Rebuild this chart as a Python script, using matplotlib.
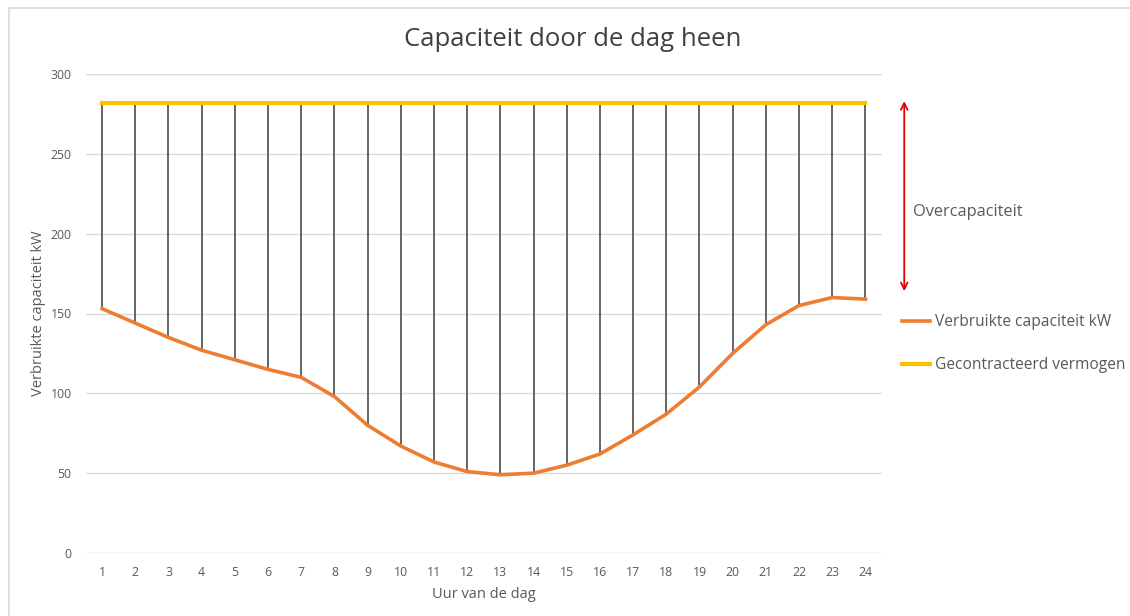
import matplotlib
matplotlib.use('Agg')
import matplotlib.pyplot as plt
from matplotlib.lines import Line2D

# Hourly data
hours = list(range(1, 25))
verbruikt = [153, 144, 135, 127, 121, 115, 110, 98, 80, 67, 57, 51,
             49, 50, 55, 62, 74, 87, 104, 125, 143, 155, 160, 159]
gecontracteerd = [282] * 24
y_ticks = [0, 50, 100, 150, 200, 250, 300]

ORANGE = '#ED7D31'
GOLD = '#FFC000'
TEXT = '#595959'
GRID = '#D9D9D9'

plt.rcParams['font.family'] = ['Open Sans', 'DejaVu Sans']

W, H = 1130, 616
fig = plt.figure(figsize=(W / 100, H / 100), dpi=100)
ax = fig.add_axes([85.5 / W, 1 - 553 / H, (882 - 85.5) / W, (553 - 74) / H])

# outer chart frame (left and top edges only visible)
fig.add_artist(Line2D([9 / W, 9 / W], [0, 1 - 8 / H], color='#D9D9D9', lw=1.2))
fig.add_artist(Line2D([9 / W, 1], [1 - 8 / H, 1 - 8 / H], color='#D9D9D9', lw=1.2))

# high-low drop lines
ax.vlines(hours, verbruikt, gecontracteerd, color='#595959', lw=1.3, zorder=2)
ax.plot(hours, verbruikt, color=ORANGE, lw=2.6, zorder=3,
        label='Verbruikte capaciteit kW', solid_joinstyle='round')
ax.plot(hours, gecontracteerd, color=GOLD, lw=3, zorder=3,
        label='Gecontracteerd vermogen')

ax.set_xlim(0.5, 24.5)
ax.set_ylim(0, 300)
ax.set_yticks(y_ticks)
ax.set_xticks(hours)
ax.grid(axis='y', color=GRID, lw=1)
ax.set_axisbelow(True)
for s in ax.spines.values():
    s.set_visible(False)
ax.tick_params(length=0, labelsize=8.8, colors=TEXT)
ax.tick_params(axis='x', pad=9)
ax.tick_params(axis='y', pad=10)

fig.text(573 / W, 1 - 40 / H, 'Capaciteit door de dag heen', fontsize=18.5,
         color='#404040', ha='center', va='center')
ax.set_xlabel('Uur van de dag', fontsize=10.5, color=TEXT, labelpad=6)
ax.set_ylabel('Verbruikte capaciteit kW', fontsize=10.5, color=TEXT)
ax.yaxis.set_label_coords((46 - 85.5) / (882 - 85.5), 0.5)

# overcapacity arrow
ax.annotate('', xy=(25.17, 283), xytext=(25.17, 164),
            arrowprops=dict(arrowstyle='<->', color='#E00000', lw=1.3,
                            mutation_scale=12, shrinkA=0, shrinkB=0),
            annotation_clip=False)
ax.text(25.44, 213.5, 'Overcapaciteit', fontsize=11.8, color=TEXT,
        va='center', ha='left', clip_on=False)

ax.legend(loc='upper left', bbox_to_anchor=(896 / W, 1 - 308 / H),
          bbox_transform=fig.transFigure, frameon=False, fontsize=11.2,
          labelcolor=TEXT, handlelength=1.8, handletextpad=0.3,
          labelspacing=1.75, borderaxespad=0)

fig.savefig('out.png', dpi=100, facecolor='white')
